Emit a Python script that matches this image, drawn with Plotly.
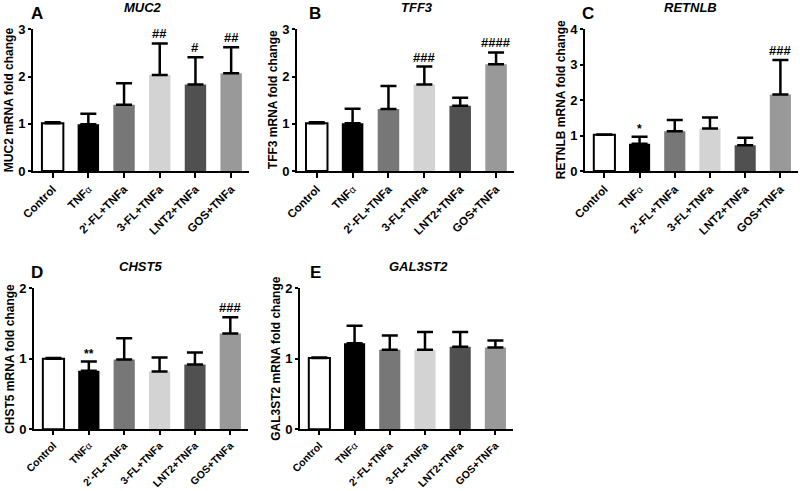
import plotly.graph_objects as go

categories = ["Control", "TNFα", "2'-FL+TNFa", "3-FL+TNFa", "LNT2+TNFa", "GOS+TNFa"]
tick_labels = ["Control", "TNF<span style='font-weight:normal;font-size:10px'>α</span>",
               "2'-FL+TNFa", "3-FL+TNFa", "LNT2+TNFa", "GOS+TNFa"]
bar_colors = ["#ffffff", "#000000", "#777777", "#d3d3d3", "#505050", "#999999"]

muc2 = [1.01, 0.99, 1.40, 2.03, 1.83, 2.07]
muc2_err = [0.02, 0.22, 0.46, 0.67, 0.58, 0.55]
muc2_sig = ["", "", "", "##", "#", "##"]

tff3 = [1.01, 1.01, 1.31, 1.83, 1.38, 2.26]
tff3_err = [0.02, 0.31, 0.49, 0.38, 0.17, 0.25]
tff3_sig = ["", "", "", "###", "", "####"]

retnlb = [1.02, 0.77, 1.12, 1.20, 0.73, 2.16]
retnlb_err = [0.01, 0.20, 0.32, 0.31, 0.21, 0.97]
retnlb_sig = ["", "*", "", "", "", "###"]

chst5 = [1.00, 0.83, 0.99, 0.82, 0.92, 1.36]
chst5_err = [0.01, 0.13, 0.30, 0.20, 0.17, 0.23]
chst5_sig = ["", "**", "", "", "", "###"]

gal3st2 = [1.01, 1.22, 1.13, 1.13, 1.17, 1.16]
gal3st2_err = [0.01, 0.25, 0.20, 0.25, 0.21, 0.10]
gal3st2_sig = ["", "", "", "", "", ""]

W, H = 800, 491
FONT = "Arial, 'Liberation Sans', Helvetica, sans-serif"

panels = [
    # letter, gene, values, err, sig, ymax, x0, x1, ytop_px, ybot_px, title_x, letter_x, xtick size
    ("A", "MUC2", muc2, muc2_err, muc2_sig, 3, 33, 249, 29.3, 171, 143, 37, 11.5),
    ("B", "TFF3", tff3, tff3_err, tff3_sig, 3, 297, 514, 29.3, 171, 417, 315, 11.5),
    ("C", "RETNLB", retnlb, retnlb_err, retnlb_sig, 4, 585, 798, 29.3, 171, 690, 588, 11.5),
    ("D", "CHST5", chst5, chst5_err, chst5_sig, 2, 34, 248, 288.3, 429.3, 140, 37, 10.5),
    ("E", "GAL3ST2", gal3st2, gal3st2_err, gal3st2_sig, 2, 300, 513, 288.3, 429.3, 418, 315, 10.5),
]

fig = go.Figure()
annotations = []
layout = {}

for i, (letter, gene, vals, err, sig, ymax, x0, x1, yt, yb, tx, lx, xfs) in enumerate(panels):
    n = "" if i == 0 else str(i + 1)
    xa, ya = "x" + n, "y" + n
    fig.add_trace(go.Bar(
        x=categories, y=vals, xaxis=xa, yaxis=ya,
        width=0.6,
        marker=dict(color=bar_colors,
                    line=dict(color="black", width=[2, 0, 0, 0, 0, 0])),
        error_y=dict(type="data", array=err, arrayminus=[0] * 6, symmetric=False,
                     thickness=2.5, width=8, color="black"),
        showlegend=False,
    ))
    layout["xaxis" + n] = dict(
        domain=[x0 / W, x1 / W], anchor=ya, range=[-0.55, 5.5],
        tickmode="array", tickvals=categories, ticktext=tick_labels,
        showline=True, linecolor="black", linewidth=2,
        ticks="outside", ticklen=4 if xfs < 11 else 5, tickwidth=2, tickcolor="black",
        tickangle=-45, tickfont=dict(family=FONT, size=xfs, color="black", weight="bold"),
        showgrid=False, zeroline=False, fixedrange=True, automargin=False,
    )
    layout["yaxis" + n] = dict(
        domain=[1 - yb / H, 1 - yt / H], anchor=xa, range=[0, ymax],
        dtick=1, showline=True, linecolor="black", linewidth=2,
        ticks="outside", ticklen=3, tickwidth=2, tickcolor="black",
        tickfont=dict(family=FONT, size=13, color="black", weight="bold"),
        showgrid=False, zeroline=False, fixedrange=True, automargin=False,
    )
    for c, v, e, s in zip(categories, vals, err, sig):
        if s:
            annotations.append(dict(
                x=c, y=v + e, xref=xa, yref=ya, text=s, showarrow=False,
                yanchor="bottom", yshift=-1 if s.startswith("*") else 0,
                font=dict(family=FONT, size=13 if s.startswith("#") else 12,
                          color="black", weight="bold"),
            ))
    annotations.append(dict(
        x=tx / W, y=1 - (yt - 22) / H, xref="paper", yref="paper",
        text="<b><i>%s</i></b>" % gene, showarrow=False,
        xanchor="center", yanchor="middle",
        font=dict(family=FONT, size=13, color="black"),
    ))
    annotations.append(dict(
        x=lx / W, y=1 - (yt - 15.5) / H, xref="paper", yref="paper",
        text="<b>%s</b>" % letter, showarrow=False,
        xanchor="center", yanchor="middle",
        font=dict(family=FONT, size=17, color="black"),
    ))
    annotations.append(dict(
        x=(x0 - 24) / W, y=1 - ((yt + yb) / 2) / H, xref="paper", yref="paper",
        text="<b>%s mRNA fold change</b>" % gene, showarrow=False, textangle=-90,
        xanchor="center", yanchor="middle",
        font=dict(family=FONT, size=12, color="black"),
    ))

fig.update_layout(
    template="none",
    width=W, height=H,
    margin=dict(l=0, r=0, t=0, b=0, autoexpand=False),
    paper_bgcolor="white", plot_bgcolor="white",
    annotations=annotations,
    bargap=0.4,
    **layout,
)

fig.write_html(
    "out.html",
    config={"displayModeBar": False},
    post_script="document.body.style.margin='0';document.body.style.overflow='hidden';",
)
